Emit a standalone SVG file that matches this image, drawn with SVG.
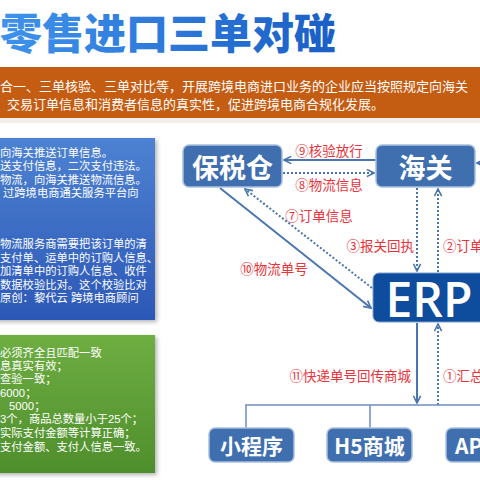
<svg xmlns="http://www.w3.org/2000/svg" width="480" height="480" viewBox="0 0 480 480">
<defs>
<linearGradient id="tg" x1="0" y1="0" x2="1" y2="0"><stop offset="0" stop-color="#3f93ec"/><stop offset="1" stop-color="#1a5ec6"/></linearGradient>
<linearGradient id="bg" x1="0" y1="0" x2="0" y2="1"><stop offset="0" stop-color="#4d82d2"/><stop offset="1" stop-color="#2c58b6"/></linearGradient>
<linearGradient id="gg" x1="0" y1="0" x2="0" y2="1"><stop offset="0" stop-color="#6fae42"/><stop offset="1" stop-color="#4e8e2c"/></linearGradient>
<filter id="sh" x="-10%" y="-10%" width="130%" height="130%"><feDropShadow dx="2" dy="2" stdDeviation="2" flood-color="#000" flood-opacity="0.3"/></filter>
<marker id="ah" viewBox="0 0 10 10" refX="9" refY="5" markerWidth="9" markerHeight="9" markerUnits="userSpaceOnUse" orient="auto"><path d="M1,1 L9,5 L1,9" fill="none" stroke="#4a76b0" stroke-width="1.8"/></marker>
<style>
.cn{font-family:"Noto Sans CJK SC","Liberation Sans",sans-serif;}
.w{font-family:"Liberation Sans","Noto Sans CJK SC",sans-serif;fill:#fff;font-size:11.3px;}
.lab{fill:#e8333a;font-size:13.5px;}
.box{fill:#3f6faf;stroke:#a9c0de;stroke-width:1.5;}
.bt{fill:#fff;font-weight:bold;}
.sol{stroke:#4a76b0;stroke-width:2;fill:none;}
.dot{stroke:#4a76b0;stroke-width:2;fill:none;stroke-dasharray:2 2;}
.thin{stroke:#6d8fbf;stroke-width:1.5;fill:none;}
</style>
</defs>
<rect width="480" height="480" fill="#fff"/>
<g id="title">
<text x="0" y="30" class="cn" font-size="42" font-weight="900" fill="url(#tg)" dominant-baseline="central">零售进口三单对碰</text>
</g>
<g id="banner">
<rect x="0" y="67" width="480" height="51" fill="#c45c12"/>
<rect x="0" y="118" width="480" height="5" fill="#f4eee9"/>
<text class="cn" x="0" y="85" fill="#fff" font-size="13" dominant-baseline="central">合一、三单核验、三单对比等，开展跨境电商进口业务的企业应当按照规定向海关</text>
<text class="cn" x="7" y="103" fill="#fff" font-size="13" dominant-baseline="central">交易订单信息和消费者信息的真实性，促进跨境电商合规化发展。</text>
</g>
<g id="bluebox">
<rect x="-10" y="138" width="165" height="182" fill="url(#bg)" filter="url(#sh)"/>
<g class="w" dominant-baseline="central">
<text x="0" y="153">向海关推送订单信息。</text>
<text x="0" y="166">送支付信息，二次支付违法。</text>
<text x="0" y="180">物流，向海关推送物流信息。</text>
<text x="3" y="193">过跨境电商通关服务平台向</text>
<text x="0" y="244">物流服务商需要把该订单的清</text>
<text x="0" y="258">支付单、运单中的订购人信息、</text>
<text x="0" y="271">加清单中的订购人信息、收件</text>
<text x="0" y="285">数据校验比对。这个校验比对</text>
<text x="0" y="298">原创：黎代云 跨境电商顾问</text>
</g>
</g>
<g id="greenbox">
<rect x="-10" y="335" width="165" height="138" fill="url(#gg)" filter="url(#sh)"/>
<g class="w" dominant-baseline="central">
<text x="0" y="353">必须齐全且匹配一致</text>
<text x="0" y="366">息真实有效；</text>
<text x="0" y="379">查验一致；</text>
<text x="0" y="393">6000；</text>
<text x="9" y="406">5000；</text>
<text x="0" y="419">3个，商品总数量小于25个；</text>
<text x="0" y="433">实际支付金额等计算正确；</text>
<text x="0" y="447">支付金额、支付人信息一致。</text>
</g>
</g>
<g id="connectors">
<line class="sol" x1="376" y1="160" x2="284" y2="160" marker-end="url(#ah)"/>
<line class="dot" x1="283" y1="173" x2="374" y2="173" marker-end="url(#ah)"/>
<line class="sol" x1="480" y1="163" x2="477" y2="163" marker-end="url(#ah)"/>
<line class="sol" x1="220" y1="188" x2="371" y2="308" marker-end="url(#ah)"/>
<line class="dot" x1="372" y1="288" x2="245" y2="189" marker-end="url(#ah)"/>
<line class="dot" x1="417" y1="188" x2="417" y2="271" marker-end="url(#ah)"/>
<line class="dot" x1="438" y1="272" x2="438" y2="189" marker-end="url(#ah)"/>
<line class="sol" x1="417" y1="323" x2="417" y2="403" marker-end="url(#ah)"/>
<line class="dot" x1="438" y1="405" x2="438" y2="324" marker-end="url(#ah)"/>
<polyline class="thin" points="246,428 246,405 490,405"/>
<line class="thin" x1="370" y1="405" x2="370" y2="428"/>
<g class="cn lab" dominant-baseline="central">
<text x="329" y="150" text-anchor="middle">⑨核验放行</text>
<text x="329" y="184" text-anchor="middle">⑧物流信息</text>
<text x="319" y="215" text-anchor="middle">⑦订单信息</text>
<text x="274" y="268" text-anchor="middle">⑩物流单号</text>
<text x="414" y="245" text-anchor="end">③报关回执</text>
<text x="443" y="245">②订单</text>
<text x="411" y="375" text-anchor="end">⑪快递单号回传商城</text>
<text x="443" y="375">①汇总</text>
</g>
</g>
<g id="node-baoshuicang">
<rect class="box" x="183" y="145" width="99" height="42" rx="6"/>
<text class="cn bt" x="232.5" y="166" font-size="27" text-anchor="middle" dominant-baseline="central">保税仓</text>
</g>
<g id="node-haiguan">
<rect class="box" x="376" y="145" width="99" height="42" rx="6"/>
<text class="cn bt" x="425.5" y="166" font-size="27" text-anchor="middle" dominant-baseline="central">海关</text>
</g>
<g id="node-erp">
<rect x="373" y="273" width="130" height="49" rx="6" fill="#0e4d9e" stroke="#7d9cc8" stroke-width="1"/>
<text x="429" y="298" font-family="Open Sans, Liberation Sans, sans-serif" font-size="48" font-weight="600" fill="#fff" text-anchor="middle" dominant-baseline="central">ERP</text>
</g>
<g id="node-xiaochengxu">
<rect class="box" x="209" y="428" width="85" height="34" rx="6"/>
<text class="cn bt" x="251.5" y="445" font-size="21" text-anchor="middle" dominant-baseline="central">小程序</text>
</g>
<g id="node-h5">
<rect class="box" x="327" y="428" width="85" height="34" rx="6"/>
<text class="cn bt" x="369.5" y="445" font-size="21" text-anchor="middle" dominant-baseline="central">H5商城</text>
</g>
<g id="node-app">
<rect class="box" x="446" y="428" width="85" height="34" rx="6"/>
<text class="cn bt" x="455" y="445" font-size="21" dominant-baseline="central">APP</text>
</g>
</svg>
